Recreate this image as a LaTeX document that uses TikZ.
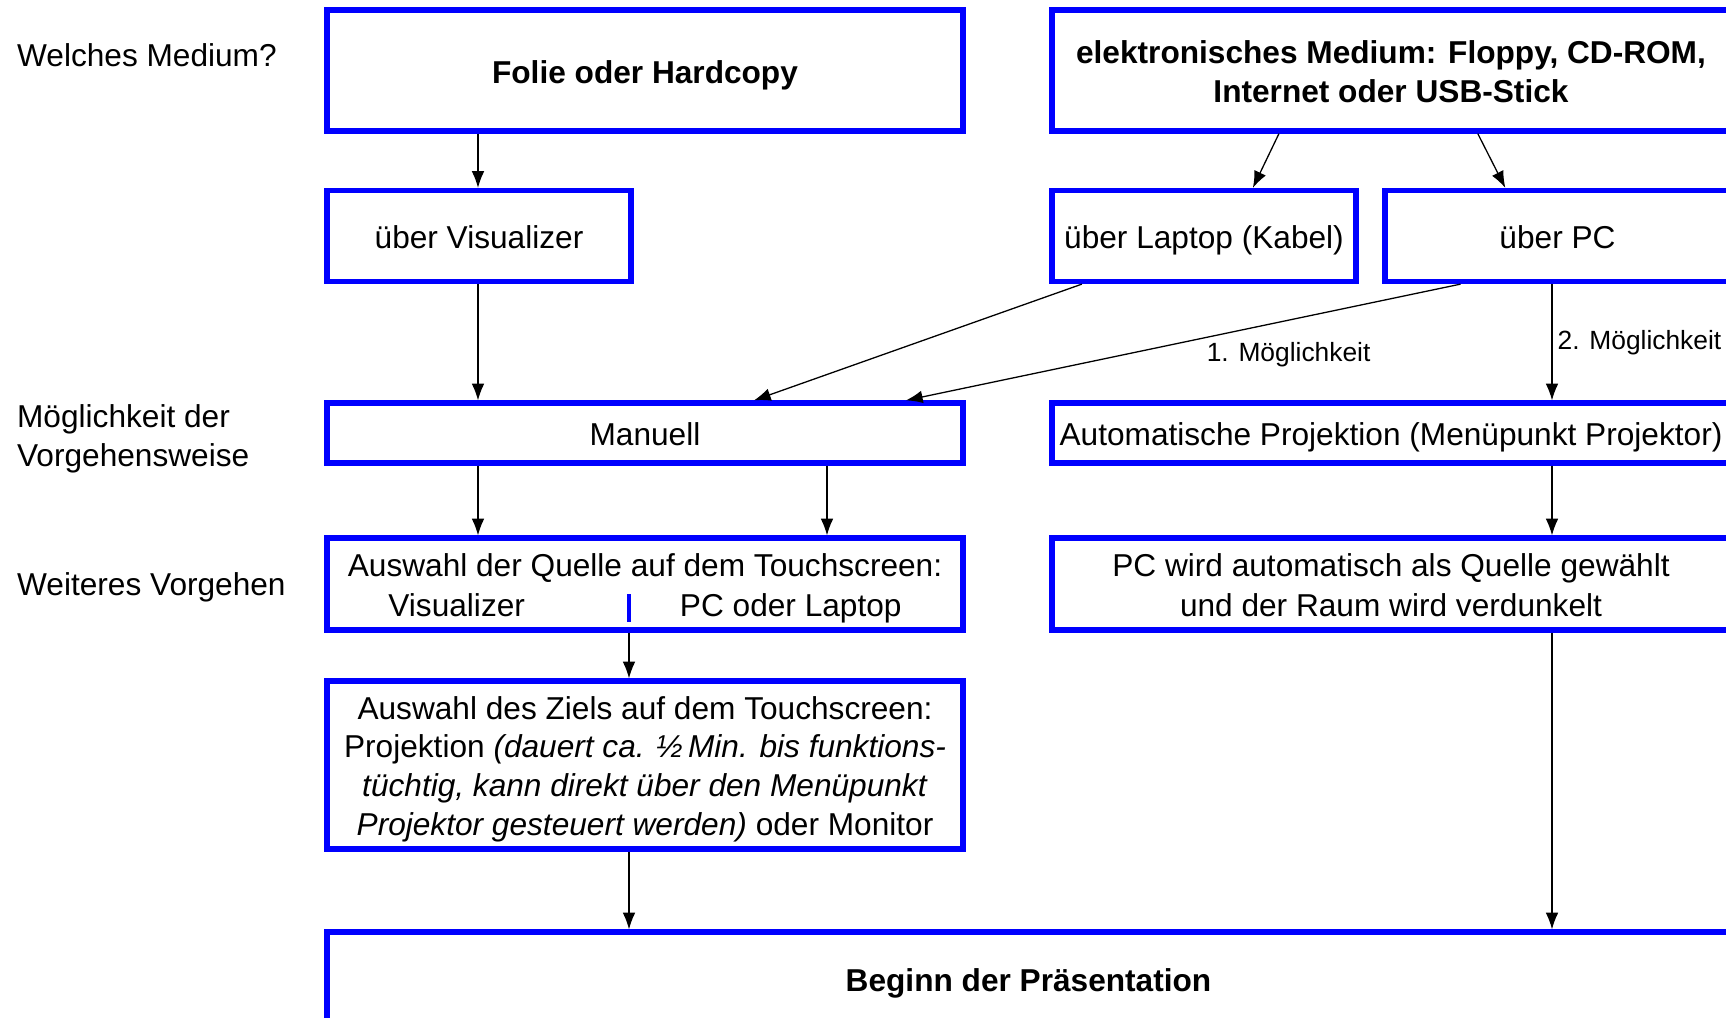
\documentclass[tikz,border=0pt]{standalone}
\usepackage{fontspec}
\setmainfont{Liberation Sans}
\usetikzlibrary{arrows.meta,calc,positioning}
\newcommand\zeilenstrut{\rule[-0.212em]{0pt}{1.22em}}

\begin{document}
\begin{tikzpicture}[x=0.03cm,y=-0.03cm,
    font=\fontsize{27}{32.8}\selectfont,
    stufe/.style={draw=blue,line width=4.5pt,inner sep=0pt,align=center},
    einzeilig/.style={stufe,execute at begin node=\zeilenstrut},
    fett/.style={font=\fontsize{27}{32.8}\selectfont\bfseries},
    boxsize/.style 2 args={minimum width=#1*0.03cm,minimum height=#2*0.03cm},
    pfeil/.style={-{Latex[length=0.5cm,width=0.38cm]},line width=1.1pt},
    hinweis/.style={font=\fontsize{22.5}{27}\selectfont,inner sep=0pt}]
  \useasboundingbox (0,0) rectangle (1726,1018);
  \clip (0,0) rectangle (1726,1018);

  \node[anchor=west,align=left] (frage) at (13,55) {Welches Medium?};
  \node[anchor=west,align=left] (weise) at (13,439) {Möglichkeit der\\Vorgehensweise};
  \node[anchor=west,align=left] (weiter) at (13,587) {Weiteres Vorgehen};

  \node[einzeilig,fett,boxsize={636}{121}] (folie) at (645,70.5) {Folie oder Hardcopy};
  \node[stufe,fett,boxsize={678}{121}] (elektro) at (1391,70.5)
    {\zeilenstrut elektronisches Medium: Floppy, CD-ROM,\\Internet oder USB-Stick\zeilenstrut};
  \node[einzeilig,boxsize={304}{91}] (visual) at (479,236) {über Visualizer};
  \node[einzeilig,boxsize={304}{91}] (laptop) at (1204,236) {über Laptop (Kabel)};
  \node[einzeilig,boxsize={345}{91}] (pc) at (1557.5,236) {über PC};
  \node[einzeilig,boxsize={636}{60}] (manuell) at (645,433) {Manuell};
  \node[einzeilig,boxsize={678}{60}] (auto) at (1391,433) {Automatische Projektion (Menüpunkt Projektor)};
  \node[stufe,boxsize={636}{92}] (quelle) at (645,584)
    {\zeilenstrut Auswahl der Quelle auf dem Touchscreen:\\Visualizer\hspace{4.65cm}PC oder Laptop\zeilenstrut};
  \node[stufe,boxsize={678}{92}] (pcwird) at (1391,584)
    {\zeilenstrut PC wird automatisch als Quelle gewählt\\und der Raum wird verdunkelt\zeilenstrut};
  \node[stufe,boxsize={636}{168}] (ziel) at (645,765)
    {\zeilenstrut Auswahl des Ziels auf dem Touchscreen:\\
     Projektion \textit{(dauert ca. ½\,Min. bis funktions-}\\
     \textit{tüchtig, kann direkt über den Menüpunkt}\\
     \textit{Projektor gesteuert werden)} oder Monitor\zeilenstrut};
  \node[einzeilig,fett,boxsize={1403}{93}] (beginn) at (1028.5,978.5) {Beginn der Präsentation};

  \draw[blue,line width=3pt] (629,594) -- (629,622);

  \coordinate (c1) at (478,0);
  \coordinate (c2) at (827,0);
  \coordinate (c3) at (629,0);
  \coordinate (c4) at (1552,0);

  \foreach \von/\nach/\sp in {folie/visual/c1,visual/manuell/c1,manuell/quelle/c1,
      manuell/quelle/c2,quelle/ziel/c3,ziel/beginn/c3,auto/pcwird/c4,pcwird/beginn/c4}
    \draw[pfeil] (\sp |- \von.south) -- (\sp |- \nach.north);

  \draw[pfeil] ($(elektro.south west)!0.336!(elektro.south east)$) -- ($(laptop.north west)!0.658!(laptop.north east)$);
  \draw[pfeil] ($(elektro.south west)!0.627!(elektro.south east)$) -- ($(pc.north west)!0.351!(pc.north east)$);
  \draw[pfeil] ($(laptop.south west)!0.105!(laptop.south east)$) -- ($(manuell.north west)!0.67!(manuell.north east)$);
  \draw[pfeil] ($(pc.south west)!0.223!(pc.south east)$)
    -- node[hinweis,pos=0.31,below=0.65cm] (erste) {1. Möglichkeit}
    ($(manuell.north west)!0.907!(manuell.north east)$);
  \draw[pfeil] (c4 |- pc.south)
    -- node[hinweis,pos=0.5,right=0.15cm] (zweite) {2. Möglichkeit}
    (c4 |- auto.north);
\end{tikzpicture}
\end{document}
